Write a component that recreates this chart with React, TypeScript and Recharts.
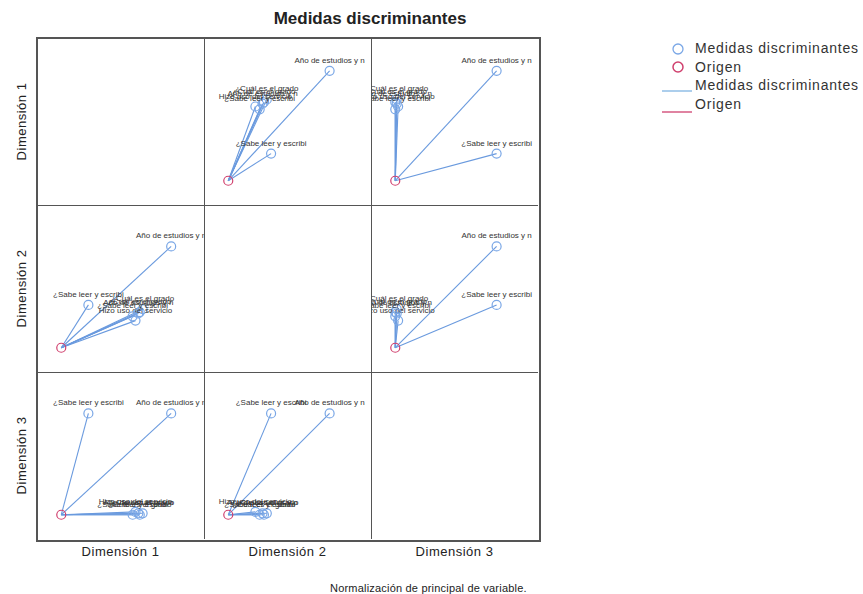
import { ScatterChart, Scatter, XAxis, YAxis } from 'recharts';

// variable names as printed (truncated) in the plot
const variables = [
  'Año de estudios y n',
  '¿Sabe leer y escribi',
  '¿Cuál es el grado',
  '¿Cuál es el grado',
  'Hizo uso del servicio',
  'Año de estudios y n',
  '¿Sabe leer y escribi',
];

// discrimination measures per dimension
const dim1 = [0.77, 0.19, 0.57, 0.55, 0.52, 0.54, 0.5];
const dim2 = [0.71, 0.3, 0.27, 0.25, 0.19, 0.24, 0.22];
const dim3 = [0.71, 0.71, 0.01, 0.0, 0.02, 0.01, 0.0];

const dimensions = ['Dimensión 1', 'Dimensión 2', 'Dimensión 3'];
const dims = [dim1, dim2, dim3];

const BLUE_POINT = '#7aa7e6';
const BLUE_LINE = '#6a9ade';
const RED = '#d0406e';
const GRID = '#555';
const FONT = 'Arial, "Liberation Sans", sans-serif';

const LEFT = 37;
const TOP = 38;
const CELL = 167;
const DOMAIN: [number, number] = [-0.17, 1];

const hollow = (color: string, withLabel: boolean) => (props: any) => (
  <g>
    <circle cx={props.cx} cy={props.cy} r={4.5} fill="none" stroke={color} strokeWidth={1.2} />
    {withLabel && (
      <text x={props.cx} y={props.cy - 8} textAnchor="middle" fontSize={8} fill="#333" fontFamily={FONT}>
        {props.payload.name}
      </text>
    )}
  </g>
);

function Panel({ row, col }: { row: number; col: number }) {
  const xs = dims[col];
  const ys = dims[row];
  const points = variables.map((name, i) => ({ x: xs[i], y: ys[i], name }));
  return (
    <div
      style={{
        position: 'absolute',
        left: LEFT + col * CELL,
        top: TOP + row * CELL,
        width: CELL,
        height: CELL,
        overflow: 'hidden',
      }}
    >
      <ScatterChart width={CELL} height={CELL} margin={{ top: 0, right: 0, bottom: 0, left: 0 }}>
        <XAxis type="number" dataKey="x" domain={DOMAIN} hide />
        <YAxis type="number" dataKey="y" domain={DOMAIN} hide />
        {points.map((p, i) => (
          <Scatter
            key={'l' + i}
            data={[{ x: 0, y: 0 }, { x: p.x, y: p.y }]}
            line={{ stroke: BLUE_LINE, strokeWidth: 1.1 }}
            shape={() => <g />}
            isAnimationActive={false}
          />
        ))}
        <Scatter data={points} shape={hollow(BLUE_POINT, true)} isAnimationActive={false} />
        <Scatter data={[{ x: 0, y: 0, name: '' }]} shape={hollow(RED, false)} isAnimationActive={false} />
      </ScatterChart>
    </div>
  );
}

export default function App() {
  const cells: { row: number; col: number }[] = [];
  for (let r = 0; r < 3; r++) for (let c = 0; c < 3; c++) if (r !== c) cells.push({ row: r, col: c });
  const size = CELL * 3;
  return (
    <div style={{ position: 'absolute', left: 0, top: 0, width: 863, height: 594, background: '#fff', fontFamily: FONT, color: '#222' }}>
      <div style={{ position: 'absolute', left: 200, width: 340, top: 9, textAlign: 'center', fontSize: 17, fontWeight: 'bold' }}>
        Medidas discriminantes
      </div>
      {cells.map((c) => (
        <Panel key={c.row + '-' + c.col} row={c.row} col={c.col} />
      ))}
      {/* frame and grid lines */}
      <div style={{ position: 'absolute', left: LEFT - 1, top: TOP - 1, width: size, height: size, border: `2px solid ${GRID}`, boxSizing: 'content-box' }} />
      {[1, 2].map((k) => (
        <div key={'v' + k} style={{ position: 'absolute', left: LEFT + k * CELL, top: TOP, width: 1, height: size, background: GRID }} />
      ))}
      {[1, 2].map((k) => (
        <div key={'h' + k} style={{ position: 'absolute', left: LEFT, top: TOP + k * CELL, width: size, height: 1, background: GRID }} />
      ))}
      {dimensions.map((d, i) => (
        <div key={'c' + d} style={{ position: 'absolute', left: LEFT + i * CELL, width: CELL, top: 544, textAlign: 'center', fontSize: 13, letterSpacing: 0.5 }}>
          {d}
        </div>
      ))}
      {dimensions.map((d, i) => (
        <div
          key={'r' + d}
          style={{
            position: 'absolute',
            left: 21 - CELL / 2,
            top: TOP + i * CELL + CELL / 2 - 8,
            width: CELL,
            textAlign: 'center',
            fontSize: 13,
            letterSpacing: 0.5,
            transform: 'rotate(-90deg)',
          }}
        >
          {d}
        </div>
      ))}
      <div style={{ position: 'absolute', left: 330, top: 582, fontSize: 11, letterSpacing: 0.2 }}>
        Normalización de principal de variable.
      </div>
      {/* legend */}
      <svg style={{ position: 'absolute', left: 660, top: 40 }} width={40} height={80}>
        <circle cx={18} cy={9} r={5} fill="none" stroke={BLUE_POINT} strokeWidth={1.3} />
        <circle cx={18} cy={27} r={5} fill="none" stroke={RED} strokeWidth={1.5} />
        <line x1={2} x2={32} y1={51} y2={51} stroke="#7fb3e2" strokeWidth={1.3} />
        <line x1={2} x2={32} y1={72} y2={72} stroke={RED} strokeWidth={1.3} />
      </svg>
      {['Medidas discriminantes', 'Origen', 'Medidas discriminantes', 'Origen'].map((t, i) => (
        <div key={'lg' + i} style={{ position: 'absolute', left: 695, top: 40 + i * 18.5, fontSize: 14, letterSpacing: 0.8, color: '#333' }}>
          {t}
        </div>
      ))}
    </div>
  );
}
